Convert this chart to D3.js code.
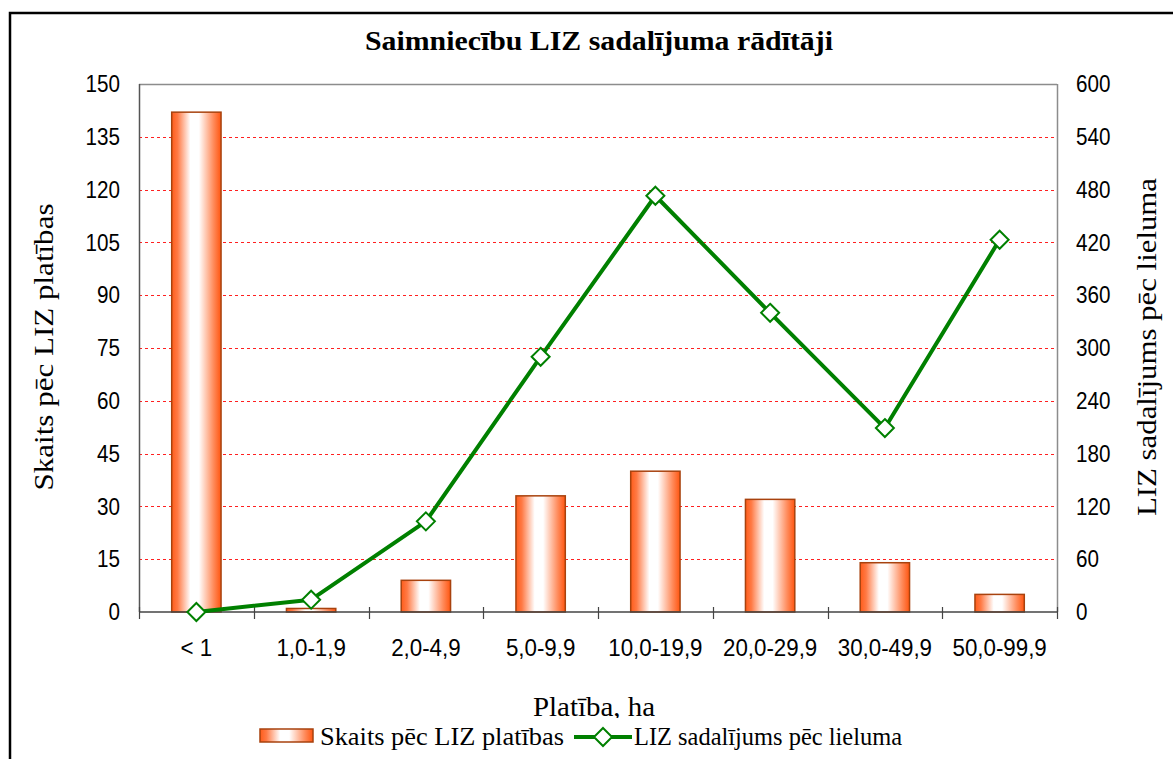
<!DOCTYPE html>
<html>
<head>
<meta charset="utf-8">
<script src="https://cdn.jsdelivr.net/npm/d3@7"></script>
<style>
  html, body { margin: 0; padding: 0; background: #fff; }
  svg { display: block; }
</style>
</head>
<body>
<svg id="chart" width="1173" height="759"></svg>
<script>
const categories = ["< 1", "1,0-1,9", "2,0-4,9", "5,0-9,9", "10,0-19,9", "20,0-29,9", "30,0-49,9", "50,0-99,9"];
const countValues = [142, 1, 9, 33, 40, 32, 14, 5];
const lizValues = [0, 14, 103, 290, 473, 340, 209, 423];
const leftTicks = [0, 15, 30, 45, 60, 75, 90, 105, 120, 135, 150];
const rightTicks = [0, 60, 120, 180, 240, 300, 360, 420, 480, 540, 600];
const titleText = "Saimniecību LIZ sadalījuma rādītāji";
const leftTitle = "Skaits pēc LIZ platības";
const rightTitle = "LIZ sadalījums pēc lieluma";
const xTitle = "Platība, ha";
const seriesNames = ["Skaits pēc LIZ platības", "LIZ sadalījums pēc lieluma"];

const svg = d3.select("#chart");
const W = 1173, H = 759;
const plot = { left: 139, right: 1057, top: 84, bottom: 612 };
const serif = "'Liberation Serif', 'Times New Roman', serif";
const sans = "'Liberation Sans', Arial, sans-serif";

svg.append("rect").attr("width", W).attr("height", H).attr("fill", "#fff");

const defs = svg.append("defs");
const grad = defs.append("linearGradient").attr("id", "barGrad")
  .attr("x1", "0%").attr("x2", "100%").attr("y1", "0%").attr("y2", "0%");
[[0, "#ff5c1a"], [0.12, "#ff7a45"], [0.38, "#ffffff"], [0.55, "#ffffff"], [0.85, "#ff8a5a"], [1, "#ff5510"]]
  .forEach(([o, c]) => grad.append("stop").attr("offset", o).attr("stop-color", c));

svg.append("rect").attr("x", 10).attr("y", 13).attr("width", 1200).attr("height", 800)
  .attr("fill", "none").attr("stroke", "#000").attr("stroke-width", 2.5);

const x = d3.scaleBand().domain(categories).range([plot.left, plot.right]).padding(0);
const yL = d3.scaleLinear().domain([0, 150]).range([plot.bottom, plot.top]);
const yR = d3.scaleLinear().domain([0, 600]).range([plot.bottom, plot.top]);

// gridlines
svg.append("g").selectAll("line").data(leftTicks.filter(t => t > 0 && t < 150)).join("line")
  .attr("x1", plot.left).attr("x2", plot.right)
  .attr("y1", d => Math.round(yL(d)) + 0.5).attr("y2", d => Math.round(yL(d)) + 0.5)
  .attr("stroke", "#ff2020").attr("stroke-width", 1).attr("stroke-dasharray", "3,3");

svg.append("line").attr("x1", plot.left).attr("x2", plot.right).attr("y1", plot.top + 0.5).attr("y2", plot.top + 0.5)
  .attr("stroke", "#8c8c8c").attr("stroke-width", 1.5);
svg.append("line").attr("x1", plot.right + 0.5).attr("x2", plot.right + 0.5).attr("y1", plot.top).attr("y2", plot.bottom)
  .attr("stroke", "#8c8c8c").attr("stroke-width", 1.5);

// bars
const bw = x.bandwidth() * 0.43;
svg.append("g").selectAll("rect").data(countValues).join("rect")
  .attr("x", (d, i) => x(categories[i]) + x.bandwidth() / 2 - bw / 2)
  .attr("y", d => yL(d))
  .attr("width", bw)
  .attr("height", d => yL(0) - yL(d))
  .attr("fill", "url(#barGrad)")
  .attr("stroke", "#a8420e").attr("stroke-width", 1.5);

svg.append("line").attr("x1", plot.left + 0.5).attr("x2", plot.left + 0.5).attr("y1", plot.top).attr("y2", plot.bottom)
  .attr("stroke", "#555").attr("stroke-width", 1.5);

const boundaries = d3.range(categories.length + 1);
const xb = d3.scaleLinear().domain([0, categories.length]).range([plot.left, plot.right]);
svg.append("line").attr("x1", plot.left).attr("x2", plot.right + 1).attr("y1", plot.bottom).attr("y2", plot.bottom)
  .attr("stroke", "#444").attr("stroke-width", 1.5);
svg.append("g").selectAll("line").data(boundaries).join("line")
  .attr("x1", d => Math.round(xb(d)) + 0.5).attr("x2", d => Math.round(xb(d)) + 0.5)
  .attr("y1", plot.bottom - 5).attr("y2", plot.bottom + 7)
  .attr("stroke", "#444").attr("stroke-width", 1.2);

function narrow(sel, factor) {
  sel.each(function () {
    const len = this.getComputedTextLength();
    d3.select(this).attr("textLength", len * factor).attr("lengthAdjust", "spacingAndGlyphs");
  });
}

const gx = svg.append("g").attr("transform", `translate(0,${plot.bottom})`)
  .call(d3.axisBottom(x).tickSize(0).tickPadding(27));
gx.select(".domain").remove();
gx.selectAll("text").attr("font-family", sans).attr("font-size", 24).attr("fill", "#000").call(narrow, 0.93);

const gl = svg.append("g").attr("transform", `translate(${plot.left},0)`)
  .call(d3.axisLeft(yL).tickValues(leftTicks).tickSize(0).tickPadding(19));
gl.select(".domain").remove();
gl.selectAll("text").attr("font-family", sans).attr("font-size", 24).attr("fill", "#000").call(narrow, 0.86);

const gr = svg.append("g").attr("transform", `translate(${plot.right},0)`)
  .call(d3.axisRight(yR).tickValues(rightTicks).tickSize(0).tickPadding(19));
gr.select(".domain").remove();
gr.selectAll("text").attr("font-family", sans).attr("font-size", 24).attr("fill", "#000").call(narrow, 0.86);

// line series
const cx = i => x(categories[i]) + x.bandwidth() / 2;
const line = d3.line().x((d, i) => cx(i)).y(d => yR(d));
svg.append("path").datum(lizValues).attr("d", line)
  .attr("fill", "none").attr("stroke", "#008000").attr("stroke-width", 4).attr("stroke-linejoin", "round");
const ds = 9;
const diamond = (px, py) => `M${px},${py - ds}L${px + ds},${py}L${px},${py + ds}L${px - ds},${py}Z`;
svg.append("g").selectAll("path").data(lizValues).join("path")
  .attr("d", (d, i) => diamond(cx(i), yR(d)))
  .attr("fill", "#fff").attr("stroke", "#008000").attr("stroke-width", 2);

function fitText(sel, target) {
  sel.attr("textLength", target).attr("lengthAdjust", "spacingAndGlyphs");
  return sel;
}
fitText(svg.append("text").attr("x", 599).attr("y", 50).attr("text-anchor", "middle")
  .attr("font-family", serif).attr("font-weight", "bold").attr("font-size", 27).text(titleText), 468);

fitText(svg.append("text").attr("transform", `translate(53,347) rotate(-90)`).attr("text-anchor", "middle")
  .attr("font-family", serif).attr("font-size", 28).text(leftTitle), 287);

fitText(svg.append("text").attr("transform", `translate(1156,347) rotate(-90)`).attr("text-anchor", "middle")
  .attr("font-family", serif).attr("font-size", 28).text(rightTitle), 338);

fitText(svg.append("text").attr("x", 594).attr("y", 716).attr("text-anchor", "middle")
  .attr("font-family", serif).attr("font-size", 27).text(xTitle), 122);

// legend
const lg = svg.append("g");
lg.append("rect").attr("x", 255).attr("y", 718).attr("width", 690).attr("height", 41).attr("fill", "#fff");
lg.append("rect").attr("x", 260).attr("y", 729).attr("width", 53).attr("height", 13)
  .attr("fill", "url(#barGrad)").attr("stroke", "#a8420e").attr("stroke-width", 1.5);
fitText(lg.append("text").attr("x", 320).attr("y", 745).attr("font-family", serif).attr("font-size", 26)
  .text(seriesNames[0]), 244);
lg.append("line").attr("x1", 574).attr("x2", 632).attr("y1", 737).attr("y2", 737)
  .attr("stroke", "#008000").attr("stroke-width", 4);
lg.append("path").attr("d", diamond(603, 737)).attr("fill", "#fff").attr("stroke", "#008000").attr("stroke-width", 2);
fitText(lg.append("text").attr("x", 634).attr("y", 745).attr("font-family", serif).attr("font-size", 26)
  .text(seriesNames[1]), 268);
</script>
</body>
</html>
